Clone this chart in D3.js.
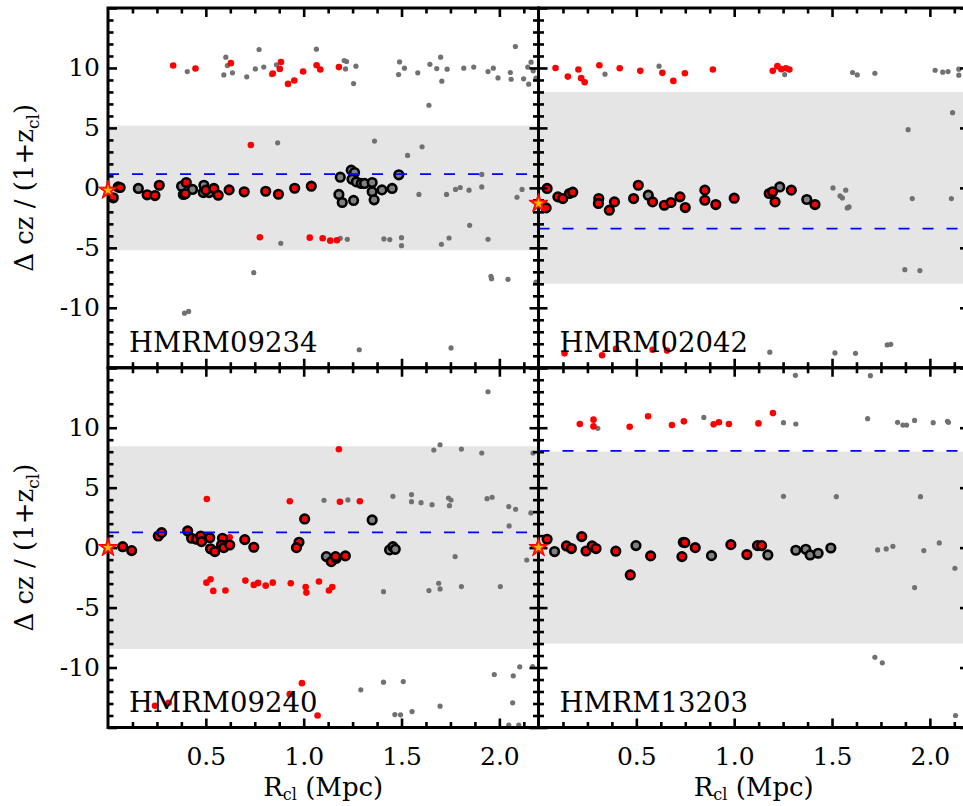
<!DOCTYPE html>
<html><head><meta charset="utf-8">
<script src="https://cdn.jsdelivr.net/npm/d3@7"></script>
<style>body{margin:0;background:#fff;overflow:hidden}svg{display:block}</style>
</head><body>
<script>
// ---------- DATA ----------
const panelNames = ["HMRM09234", "HMRM02042", "HMRM09240", "HMRM13203"];
const bandHalf = [5.2, 8.0, 8.45, 8.0];
const dashedLevel = [1.15, -3.4, 1.28, 8.06];
const starV = [-0.2, -1.3, 0, 0];
const xMajorTicks = [0.5, 1.0, 1.5, 2.0];
const yTickLabels = [-10, -5, 0, 5, 10];

// HMRM09234
const aMemRed = [[0.062,0.03],[0.027,-0.83],[0.20,-0.58],[0.24,-0.64],[0.262,0.22],[0.40,0.45],[0.395,-0.5],[0.50,-0.19],[0.541,-0.05],[0.563,-0.61],[0.619,-0.17],[0.696,-0.33],[0.806,-0.28],[0.871,-0.53],[0.954,-0.03],[1.039,0.14]];
const aMemGrey = [[0.052,0.08],[0.155,-0.05],[0.376,0.14],[0.385,-0.55],[0.432,-0.13],[0.49,0.22],[0.487,-0.39],[0.517,-0.39],[1.187,0.89],[1.243,1.48],[1.26,1.28],[1.247,0.72],[1.269,0.5],[1.294,0.37],[1.311,0.37],[1.35,0.45],[1.18,-0.55],[1.197,-1.22],[1.255,-1.05],[1.35,-0.33],[1.36,-1.0],[1.40,-0.17],[1.452,-0.05],[1.486,1.09]];
const aRedDots = [[0.333,10.2],[0.447,9.95],[0.628,10.4],[0.842,9.53],[0.884,10.5],[0.878,9.92],[0.92,8.67],[0.952,8.95],[0.997,9.7],[1.066,10.23],[1.085,9.87],[1.18,10.07],[0.73,3.57],[0.776,-4.12],[1.031,-4.15],[1.097,-4.2],[1.136,-4.4],[1.17,-4.37]];
const aGreyDots = [[0.405,9.7],[0.602,10.9],[0.61,10.2],[0.592,9.42],[0.636,9.59],[0.709,9.26],[0.753,9.92],[0.772,11.54],[0.796,10.07],[0.835,9.45],[0.861,10.26],[1.065,11.57],[1.207,10.62],[1.219,10.54],[1.214,9.92],[1.267,10.15],[1.255,8.7],[1.49,10.5],[1.485,9.45],[1.515,9.98],[1.583,9.59],[1.645,10.3],[1.64,6.89],[1.68,9.95],[1.70,10.9],[1.706,8.9],[1.733,9.9],[1.818,9.98],[1.869,10.07],[1.942,9.7],[1.969,9.98],[1.993,9.17],[2.056,9.62],[2.06,9.06],[2.082,11.79],[2.124,9.09],[2.145,10.07],[2.162,10.48],[2.15,8.65],[2.173,9.76],[2.187,9.15],[0.867,3.76],[1.362,3.9],[1.531,2.71],[1.605,3.43],[1.91,1.12],[1.91,0.08],[1.80,0.03],[1.776,-0.13],[1.589,-0.55],[1.73,-0.55],[1.845,-0.19],[2.09,-0.78],[2.116,-0.13],[1.848,-3.12],[0.883,-4.62],[1.187,-4.2],[1.223,-4.29],[1.41,-4.26],[1.44,-4.31],[1.50,-4.15],[1.50,-4.82],[1.704,-4.7],[1.743,-4.18],[1.942,-4.29],[0.745,-7.07],[0.391,-10.45],[0.412,-10.3],[1.957,-7.38],[1.96,-7.57],[2.044,-7.63],[2.187,-7.86],[1.284,-13.5],[1.753,-13.35]];

// HMRM02042
const bMemRed = [[0.044,-0.05],[0.039,-1.67],[0.099,-0.75],[0.124,-0.89],[0.158,-0.47],[0.175,-0.36],[0.308,-0.89],[0.306,-1.3],[0.388,-1.17],[0.362,-1.86],[0.486,-0.89],[0.51,0.22],[0.583,-1.17],[0.643,-1.45],[0.677,-1.22],[0.723,-0.75],[0.75,-1.64],[0.85,-0.19],[0.85,-1.03],[0.906,-1.39],[1.0,-0.86],[1.179,-0.47],[1.196,-0.33],[1.209,-1.17],[1.292,-0.19],[1.413,-1.39]];
const bMemGrey = [[0.561,-0.61],[1.233,0.08],[1.371,-0.97]];
const bRedDots = [[0.087,10.0],[0.15,9.28],[0.204,9.87],[0.218,9.15],[0.236,8.81],[0.311,10.23],[0.415,9.98],[0.52,9.76],[0.633,9.59],[0.689,8.92],[0.748,9.56],[0.891,9.87],[1.197,9.76],[1.221,10.15],[1.241,9.9],[1.264,9.98],[1.282,9.87],[0.133,-13.8],[0.325,-13.96],[0.396,-13.43],[0.583,-13.5],[0.657,-13.57]];
const bGreyDots = [[0.34,9.48],[0.616,10.15],[1.258,9.45],[1.605,9.62],[1.629,9.42],[1.719,9.56],[2.027,9.81],[2.066,9.65],[2.093,9.7],[2.148,9.9],[2.148,9.4],[2.116,6.27],[1.889,4.85],[1.505,0],[1.541,-0.67],[1.553,-0.84],[1.57,-0.19],[1.578,-1.67],[1.587,-1.59],[1.91,-0.89],[2.11,-0.89],[1.872,-6.82],[1.949,-6.9],[1.182,-13.7],[1.515,-13.76],[1.62,-13.8],[1.782,-13.1],[1.80,-13.05]];

// HMRM09240
const cMemRed = [[0.075,0.08],[0.121,-0.25],[0.257,0.97],[0.274,1.25],[0.407,1.39],[0.427,0.78],[0.452,0.7],[0.474,0.97],[0.478,0.5],[0.52,0.83],[0.524,-0.1],[0.546,-0.33],[0.585,0.78],[0.58,0.22],[0.592,0.0],[0.622,0.22],[0.699,0.67],[0.745,0.03],[1.005,2.39],[0.976,0.45],[0.963,0.0],[1.141,-1.17],[1.167,-0.89],[1.213,-0.69],[1.163,-0.75]];
const cMemGrey = [[1.116,-0.75],[1.35,2.31],[1.439,-0.19],[1.456,0.08],[1.468,-0.14]];
const cRedDots = [[0.622,0.87],[1.18,8.2],[0.505,4.06],[0.929,3.87],[1.185,3.83],[1.287,3.87],[0.503,-2.92],[0.524,-2.64],[0.538,-3.61],[0.60,-3.58],[0.702,-2.75],[0.745,-3.11],[0.767,-2.94],[0.806,-3.17],[0.842,-2.92],[0.934,-2.97],[1.01,-3.28],[1.014,-3.75],[1.078,-2.83],[1.129,-3.58],[1.146,-3.28],[0.991,-11.3],[0.929,-12.22],[1.071,-14.0],[0.24,-13.19],[0.31,-12.94]];
const cGreyDots = [[1.942,13.0],[1.665,8.14],[1.697,8.58],[1.806,8.22],[1.91,7.89],[2.172,7.89],[1.104,3.95],[1.226,3.98],[1.456,4.28],[1.551,4.42],[1.551,3.83],[1.60,3.75],[1.656,3.58],[1.74,4.14],[1.753,3.97],[1.745,3.5],[1.937,4.08],[1.963,4.2],[2.048,3.42],[2.083,3.2],[2.161,2.89],[2.05,1.81],[1.774,-0.75],[2.14,-1.03],[1.408,-3.67],[1.64,-3.58],[1.69,-2.97],[1.697,-3.44],[1.806,-3.25],[2.005,-3.25],[1.292,-11.86],[1.408,-11.22],[1.509,-11.17],[1.466,-13.92],[1.495,-13.94],[1.554,-13.67],[1.697,-13.22],[1.974,-10.58],[2.071,-10.69],[2.104,-9.94],[2.17,-9.92],[2.068,-12.94],[2.048,-14.8],[2.099,-14.8]];

// HMRM13203
const dMemRed = [[0.044,0.7],[0.143,0.14],[0.168,-0.08],[0.221,0.92],[0.243,-0.28],[0.274,0.14],[0.294,-0.08],[0.395,-0.3],[0.573,-0.69],[0.74,0.45],[0.748,0.42],[0.733,-0.75],[0.801,0.0],[0.983,0.25],[1.065,-0.58],[1.119,0.17],[1.14,0.17],[0.469,-2.28]];
const dMemGrey = [[0.082,-0.33],[0.498,0.17],[0.884,-0.67],[1.172,-0.61],[1.315,-0.22],[1.366,-0.14],[1.388,-0.61],[1.429,-0.47],[1.494,-0.03]];
const dRedDots = [[0.211,10.31],[0.281,10.67],[0.281,10.11],[0.466,10.08],[0.56,10.95],[0.682,10.22],[0.743,10.53],[0.895,10.28],[0.922,10.45],[0.973,10.31],[1.124,10.36],[1.198,11.22]];
const dGreyDots = [[0.303,9.95],[0.845,10.86],[1.252,10.42],[1.315,10.31],[1.313,14.37],[1.696,14.34],[1.682,10.75],[1.835,10.45],[1.862,10.22],[1.881,10.22],[1.922,10.61],[2.017,10.42],[2.09,10.53],[2.095,10.45],[1.252,4.28],[1.522,4.25],[1.952,4.25],[1.733,-0.19],[1.777,-0.11],[1.811,0.11],[1.969,-0.25],[2.048,0.39],[2.128,-1.72],[1.922,-3.33],[1.719,-9.14],[1.757,-9.61],[2.131,-14.0]];

const memRed = [aMemRed, bMemRed, cMemRed, dMemRed];
const memGrey = [aMemGrey, bMemGrey, cMemGrey, dMemGrey];
const redDots = [aRedDots, bRedDots, cRedDots, dRedDots];
const greyDots = [aGreyDots, bGreyDots, cGreyDots, dGreyDots];

// ---------- LAYOUT ----------
const W = 963, H = 806;
const colX0 = [108, 538.5], panelW = 430.5;
const rowY0 = [8, 367.75], panelH = 359.75;
const FONT = "'DejaVu Serif', serif";

const svg = d3.select("body").append("svg").attr("width", W).attr("height", H);

const panels = [0,1,2,3].map(i => {
  const col = i % 2, row = Math.floor(i / 2);
  const x = d3.scaleLinear().domain([0, 2.2]).range([colX0[col], colX0[col] + panelW]);
  const y = d3.scaleLinear().domain([-15, 15]).range([rowY0[row] + panelH, rowY0[row]]);
  return {i, col, row, x, y};
});

const minorX = d3.range(0, 2.2001, 0.125).filter(v => Math.abs(v / 0.5 - Math.round(v / 0.5)) > 1e-6);
const minorY = d3.range(-15, 15.001, 1).filter(v => v % 5 !== 0);
const majorY = [-15, -10, -5, 0, 5, 10, 15];

// bands, dots, members, dashed lines
panels.forEach(p => {
  const g = svg.append("g");
  const bh = bandHalf[p.i];
  g.append("rect")
    .attr("x", p.x(0)).attr("width", p.x(2.2) - p.x(0))
    .attr("y", p.y(bh)).attr("height", p.y(-bh) - p.y(bh))
    .attr("fill", "#e5e5e5");
  g.selectAll(".gd").data(greyDots[p.i]).join("circle")
    .attr("cx", d => p.x(d[0])).attr("cy", d => p.y(d[1])).attr("r", 2.6).attr("fill", "#717171");
  g.selectAll(".rd").data(redDots[p.i]).join("circle")
    .attr("cx", d => p.x(d[0])).attr("cy", d => p.y(d[1])).attr("r", 3.3).attr("fill", "#ff0000");
  g.selectAll(".mg").data(memGrey[p.i]).join("circle")
    .attr("cx", d => p.x(d[0])).attr("cy", d => p.y(d[1])).attr("r", 4.3)
    .attr("fill", "#808080").attr("stroke", "#000").attr("stroke-width", 2.6);
  g.selectAll(".mr").data(memRed[p.i]).join("circle")
    .attr("cx", d => p.x(d[0])).attr("cy", d => p.y(d[1])).attr("r", 4.3)
    .attr("fill", "#ff0000").attr("stroke", "#000").attr("stroke-width", 2.6);
  g.append("line")
    .attr("x1", p.x(0)).attr("x2", p.x(2.2))
    .attr("y1", p.y(dashedLevel[p.i])).attr("y2", p.y(dashedLevel[p.i]))
    .attr("stroke", "#0000ff").attr("stroke-width", 1.8).attr("stroke-dasharray", "11,13");
});

// axes and frames
function styleAxis(sel, w) {
  sel.select(".domain").remove();
  sel.selectAll(".tick line").attr("stroke", "#000").attr("stroke-width", w);
  sel.attr("font-family", FONT).attr("font-size", 25);
  sel.selectAll(".tick text").attr("fill", "#000");
}
panels.forEach(p => {
  const [x0, x1] = p.x.range();
  const [y1, y0] = p.y.range();
  const showX = p.row === 1, showY = p.col === 0;
  // bottom
  svg.append("g").attr("transform", `translate(0,${y1})`)
    .call(d3.axisBottom(p.x).tickValues(xMajorTicks).tickSize(-9).tickPadding(20)
      .tickFormat(showX ? d3.format(".1f") : () => ""))
    .call(s => styleAxis(s, 2.6));
  svg.append("g").attr("transform", `translate(0,${y1})`)
    .call(d3.axisBottom(p.x).tickValues(minorX).tickSize(-5.5).tickFormat(() => ""))
    .call(s => styleAxis(s, 2.6));
  // top
  svg.append("g").attr("transform", `translate(0,${y0})`)
    .call(d3.axisTop(p.x).tickValues(xMajorTicks).tickSize(-9).tickFormat(() => ""))
    .call(s => styleAxis(s, 2.6));
  svg.append("g").attr("transform", `translate(0,${y0})`)
    .call(d3.axisTop(p.x).tickValues(minorX).tickSize(-5.5).tickFormat(() => ""))
    .call(s => styleAxis(s, 2.6));
  // left
  svg.append("g").attr("transform", `translate(${x0},0)`)
    .call(d3.axisLeft(p.y).tickValues(majorY).tickSize(-9).tickPadding(8)
      .tickFormat(d => (showY && yTickLabels.includes(d)) ? String(d) : ""))
    .call(s => styleAxis(s, 2.6));
  svg.append("g").attr("transform", `translate(${x0},0)`)
    .call(d3.axisLeft(p.y).tickValues(minorY).tickSize(-5.5).tickFormat(() => ""))
    .call(s => styleAxis(s, 2.6));
  // right
  svg.append("g").attr("transform", `translate(${x1},0)`)
    .call(d3.axisRight(p.y).tickValues(majorY).tickSize(-9).tickFormat(() => ""))
    .call(s => styleAxis(s, 2.6));
  svg.append("g").attr("transform", `translate(${x1},0)`)
    .call(d3.axisRight(p.y).tickValues(minorY).tickSize(-5.5).tickFormat(() => ""))
    .call(s => styleAxis(s, 2.6));
  // frame
  svg.append("rect").attr("x", x0).attr("y", y0).attr("width", x1 - x0).attr("height", y1 - y0)
    .attr("fill", "none").attr("stroke", "#000").attr("stroke-width", 3);
  // panel label
  svg.append("text").attr("x", x0 + 21).attr("y", y1 - 16)
    .attr("font-family", FONT).attr("font-size", 27.5).attr("fill", "#000")
    .text(panelNames[p.i]);
});

// stars
const starBig = d3.symbol().type(d3.symbolStar).size(115);
const starSmall = d3.symbol().type(d3.symbolStar).size(30);
panels.forEach(p => {
  const g = svg.append("g").attr("transform", `translate(${p.x(0)},${p.y(starV[p.i])})`);
  g.append("path").attr("d", starBig()).attr("fill", "#ff1a00").attr("stroke", "#ff0000").attr("stroke-width", 1);
  g.append("path").attr("d", starSmall()).attr("fill", "#ffc000");
});

// axis titles
[0, 1].forEach(row => {
  const p = panels[row * 2];
  const cy = (p.y.range()[0] + p.y.range()[1]) / 2;
  const t = svg.append("text")
    .attr("transform", `translate(33,${cy}) rotate(-90)`)
    .attr("text-anchor", "middle")
    .attr("font-family", FONT).attr("font-size", 26).attr("fill", "#000");
  t.append("tspan").text("Δ cz / (1+z");
  t.append("tspan").attr("font-size", 17).attr("dy", 6).text("cl");
  t.append("tspan").attr("dy", -6).text(")");
});
[0, 1].forEach(col => {
  const p = panels[2 + col];
  const cx = (p.x.range()[0] + p.x.range()[1]) / 2;
  const t = svg.append("text")
    .attr("x", cx).attr("y", 796)
    .attr("text-anchor", "middle")
    .attr("font-family", FONT).attr("font-size", 26).attr("fill", "#000");
  t.append("tspan").text("R");
  t.append("tspan").attr("font-size", 16).attr("dy", 4).text("cl");
  t.append("tspan").attr("dy", -4).text(" (Mpc)");
});
</script>
</body></html>
